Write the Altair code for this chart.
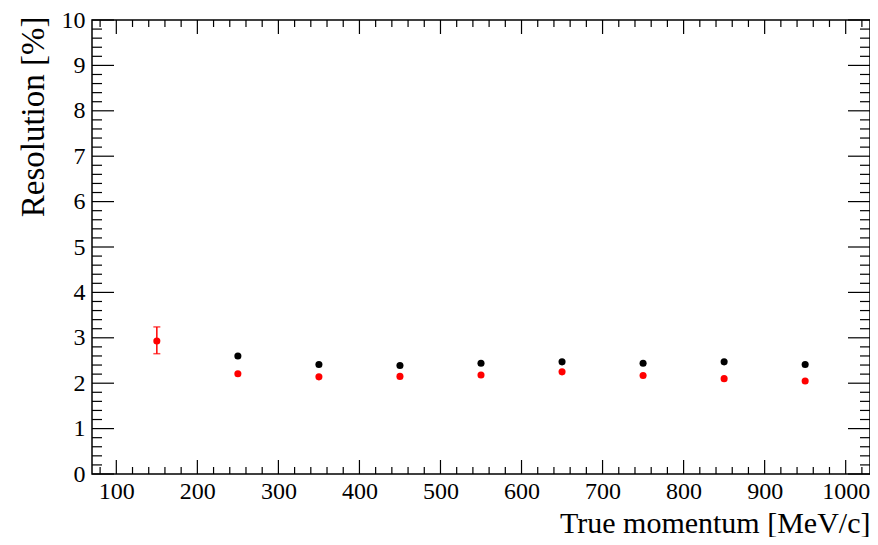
import altair as alt
import pandas as pd

# ---- data ----
momentum_black = [250, 350, 450, 550, 650, 750, 850, 950]
resolution_black = [2.60, 2.41, 2.39, 2.44, 2.47, 2.44, 2.47, 2.41]

momentum_red = [150, 250, 350, 450, 550, 650, 750, 850, 950]
resolution_red = [2.93, 2.21, 2.14, 2.15, 2.18, 2.25, 2.17, 2.10, 2.05]

err_momentum = [150]
err_low = [2.65]
err_high = [3.24]

x_major = list(range(100, 1001, 100))
x_minor = [v for v in range(80, 1021, 20) if v % 100]
y_major = list(range(0, 11))
y_minor = [round(v * 0.2, 1) for v in range(0, 51) if v % 5]

W, H = 778, 454
FONT = "Liberation Serif"

xs = alt.Scale(domain=[70, 1030], nice=False, zero=False)
ys = alt.Scale(domain=[0, 10], nice=False)

x_axis = alt.Axis(values=x_major, format="d", labelPadding=5, labelFlush=False,
                  labelOverlap=False,
                  title="True momentum [MeV/c]", titleX=W, titleY=58,
                  titleAlign="right", titleBaseline="alphabetic", titleAnchor="end")
y_axis = alt.Axis(values=y_major, format="d", labelPadding=7, labelFlush=False,
                  labelOverlap=False,
                  title="Resolution [%]", titleAngle=270, titleX=-49, titleY=-4,
                  titleAlign="right", titleBaseline="alphabetic", titleFontSize=33)

X = alt.X("x:Q", scale=xs, axis=x_axis)
Y = alt.Y("y:Q", scale=ys, axis=y_axis)

df_black = pd.DataFrame({"x": momentum_black, "y": resolution_black})
df_red = pd.DataFrame({"x": momentum_red, "y": resolution_red})
df_err = pd.DataFrame({"x": err_momentum, "y": err_low, "y2": err_high})

black = alt.Chart(df_black).mark_point(filled=True, color="black", opacity=1, size=50).encode(x=X, y=Y)
red = alt.Chart(df_red).mark_point(filled=True, color="#ff0000", opacity=1, size=50).encode(x=X, y=Y)

err_rule = alt.Chart(df_err).mark_rule(color="#ff0000", strokeWidth=1.5).encode(
    x=X, y=Y, y2=alt.Y2("y2:Q"))
cap_lo = alt.Chart(df_err).mark_tick(color="#ff0000", orient="horizontal", size=7, thickness=1.5).encode(x=X, y=Y)
cap_hi = alt.Chart(df_err).mark_tick(color="#ff0000", orient="horizontal", size=7, thickness=1.5).encode(
    x=X, y=alt.Y("y2:Q", scale=ys, axis=y_axis))

df_xmaj = pd.DataFrame({"x": x_major})
df_xmin = pd.DataFrame({"x": x_minor})
df_ymaj = pd.DataFrame({"y": y_major})
df_ymin = pd.DataFrame({"y": y_minor})

def xticks(df, length):
    bottom = alt.Chart(df).mark_rule(color="black", strokeWidth=1.2).encode(
        x=X, y=alt.value(H), y2=alt.value(H - length))
    top = alt.Chart(df).mark_rule(color="black", strokeWidth=1.2).encode(
        x=X, y=alt.value(0), y2=alt.value(length))
    return [bottom, top]

def yticks(df, length):
    left = alt.Chart(df).mark_rule(color="black", strokeWidth=1.2).encode(
        y=Y, x=alt.value(0), x2=alt.value(length))
    right = alt.Chart(df).mark_rule(color="black", strokeWidth=1.2).encode(
        y=Y, x=alt.value(W), x2=alt.value(W - length))
    return [left, right]

layers = (xticks(df_xmaj, 14) + xticks(df_xmin, 7) + yticks(df_ymaj, 22) + yticks(df_ymin, 10)
          + [err_rule, cap_lo, cap_hi, black, red])

chart = alt.layer(*layers).properties(
    width=W, height=H,
    padding={"left": 84, "top": 12, "right": 0, "bottom": 63},
    autosize=alt.AutoSizeParams(type="none"),
    background="white",
).configure_view(
    stroke="black", strokeWidth=1.5
).configure_axis(
    grid=False, ticks=False, domain=False,
    labelFont=FONT, titleFont=FONT, labelFontSize=24, titleFontSize=30,
    labelColor="black", titleColor="black", titleFontWeight="normal",
)

chart.save("out.html", embed_options={"renderer": "svg", "actions": False})
